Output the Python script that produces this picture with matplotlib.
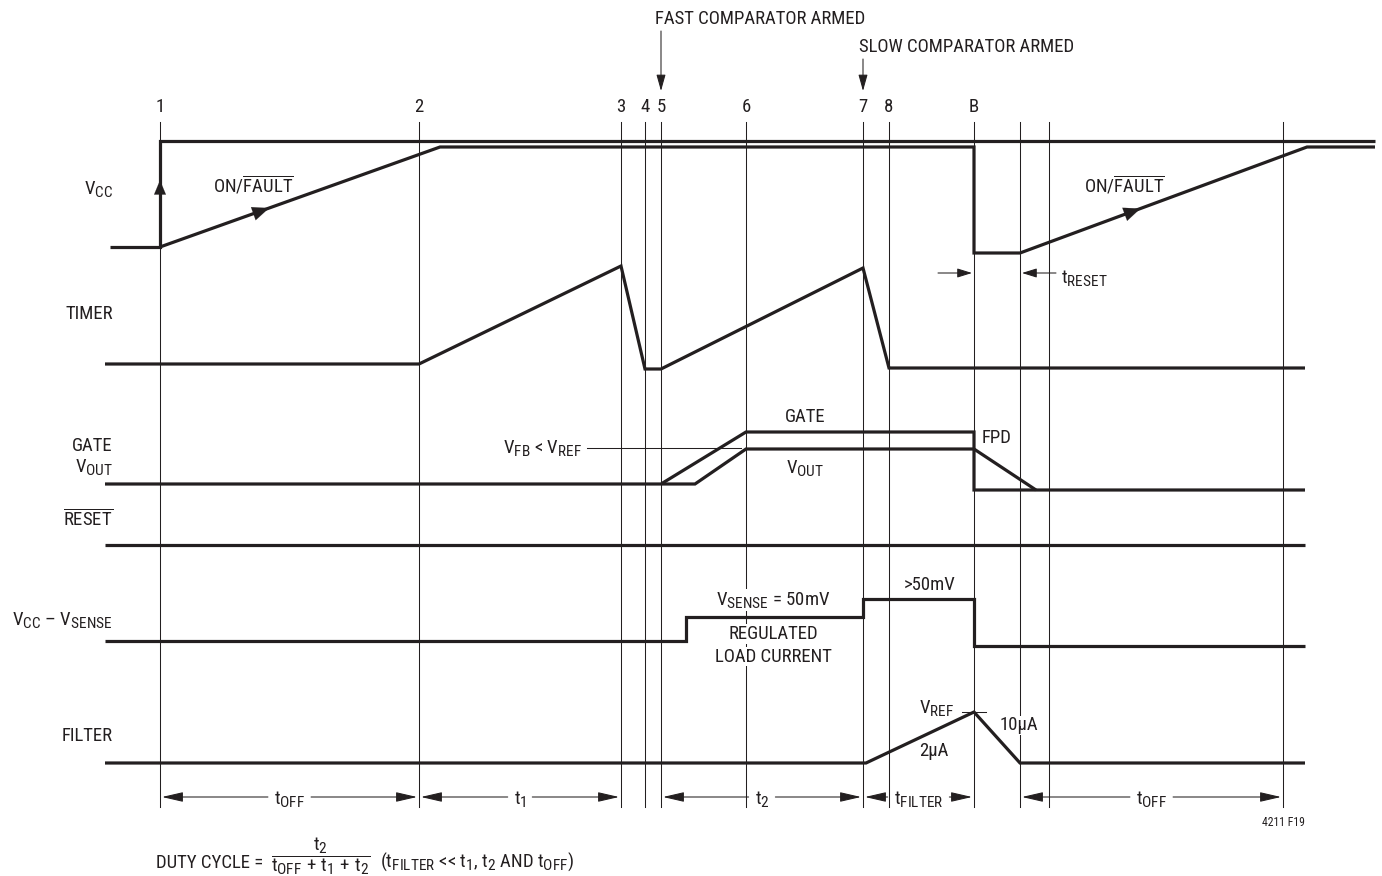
import matplotlib
matplotlib.use('Agg')
import matplotlib.pyplot as plt
import matplotlib._mathtext as _mt
from matplotlib.patches import FancyArrowPatch

# larger subscripts, closer to the reference typography
_mt.SHRINK_FACTOR = 0.82

FONT = ['Roboto Condensed', 'Archivo Narrow', 'Open Sans', 'DejaVu Sans']
plt.rcParams['font.family'] = FONT
plt.rcParams['mathtext.fontset'] = 'custom'
for k in ('rm', 'it', 'bf', 'sf'):
    plt.rcParams['mathtext.' + k] = 'Roboto Condensed'

INK = '#231f20'

# ---------------- data (time axis, signal levels) ----------------
event_labels = ['1', '2', '3', '4', '5', '6', '7', '8', 'B']
event_t = [160, 419, 621, 645, 661, 746, 863, 889, 974]
extra_t = [1020, 1049, 1283]

vcc_t = [110, 160, 160, 1375]
vcc_y = [247, 247, 141, 141]
onfault_t = [160, 440, 974, 974, 1020, 1307, 1375]
onfault_y = [247, 147, 147, 253, 253, 147, 147]
timer_t = [105, 419, 621, 645, 661, 863, 889, 1305]
timer_y = [364, 364, 266, 369, 369, 268, 368, 368]
gate_t = [105, 661, 746, 974, 974, 1305]
gate_y = [484, 484, 432, 432, 490, 490]
vout_t = [661, 695, 746, 974, 1036]
vout_y = [484, 484, 449, 449, 490]
reset_t = [105, 1305]
reset_y = [545, 545]
sense_t = [105, 686, 686, 863, 863, 974, 974, 1305]
sense_y = [641, 641, 617, 617, 599, 599, 646, 646]
filter_t = [105, 866, 974, 1020, 1305]
filter_y = [763, 763, 712, 763, 763]

intervals = [(160, 419, r'$\mathrm{t_{OFF}}$'),
             (419, 621, r'$\mathrm{t_1}$'),
             (661, 863, r'$\mathrm{t_2}$'),
             (863, 974, r'$\mathrm{t_{FILTER}}$'),
             (1020, 1283, r'$\mathrm{t_{OFF}}$')]

row_labels = [(r'$\mathrm{V_{CC}}$', 194),
              ('TIMER', 319),
              ('GATE', 451),
              (r'$\mathrm{V_{OUT}}$', 472),
              (r'$\overline{\mathrm{RESET}}$', 525),
              (r'$\mathrm{V_{CC}}$ – $\mathrm{V_{SENSE}}$', 625),
              ('FILTER', 741)]

# ---------------- figure ----------------
fig = plt.figure(figsize=(13.82, 8.76), dpi=100)
ax = fig.add_axes([0, 0, 1, 1])
ax.set_xlim(0, 1382)
ax.set_ylim(876, 0)
ax.axis('off')

THICK = 2.3
THIN = 0.75
FS = 13.5

# vertical event lines
for t in event_t + extra_t:
    ax.plot([t, t], [122, 807], color=INK, lw=THIN, zorder=2)

# event numbers
for lab, t in zip(event_labels, event_t):
    ax.text(t, 112.5, lab, ha='center', va='baseline', fontsize=FS, color=INK)

# waveforms
for xs, ys in [(vcc_t, vcc_y), (onfault_t, onfault_y), (timer_t, timer_y),
               (gate_t, gate_y), (vout_t, vout_y), (reset_t, reset_y),
               (sense_t, sense_y), (filter_t, filter_y)]:
    ax.plot(xs, ys, color=INK, lw=THICK, solid_joinstyle='miter',
            solid_capstyle='butt', zorder=4)


def arrow(p0, p1, hl=0.9, hw=0.3, lw=THIN, z=5):
    a = FancyArrowPatch(p0, p1, arrowstyle=f'-|>,head_length={hl},head_width={hw}',
                        mutation_scale=10, lw=lw, color=INK, shrinkA=0, shrinkB=0,
                        zorder=z)
    ax.add_patch(a)


def head_on_segment(x0, y0, x1, y1, frac, size=1.0):
    tx = x0 + (x1 - x0) * frac
    ty = y0 + (y1 - y0) * frac
    dx, dy = x1 - x0, y1 - y0
    n = (dx * dx + dy * dy) ** 0.5
    arrow((tx - dx / n * 12, ty - dy / n * 12), (tx, ty), hl=1.2 * size,
          hw=0.5 * size, lw=0.1, z=6)


# arrowheads on waveforms
head_on_segment(160, 247, 160, 141, 0.63, 0.85)
head_on_segment(160, 247, 440, 147, 0.39)
head_on_segment(1020, 253, 1307, 147, 0.42)

# row labels
for lab, yb in row_labels:
    ax.text(113, yb, lab, ha='right', va='baseline', fontsize=FS, color=INK)

# top annotations
ax.text(655, 24, 'FAST COMPARATOR ARMED', ha='left', va='baseline', fontsize=FS, color=INK)
ax.text(859, 52.5, 'SLOW COMPARATOR ARMED', ha='left', va='baseline', fontsize=FS, color=INK)
arrow((661, 31), (661, 91), hl=1.0, hw=0.28)
arrow((863, 59), (863, 91), hl=1.0, hw=0.28)

# ON/FAULT labels
ax.text(253, 193, r'ON/$\overline{\mathrm{FAULT}}$', ha='center', va='baseline', fontsize=FS, color=INK)
ax.text(1124, 193, r'ON/$\overline{\mathrm{FAULT}}$', ha='center', va='baseline', fontsize=FS, color=INK)

# tRESET
arrow((938, 273), (972, 273), hl=0.9, hw=0.28)
arrow((1056, 273), (1022, 273), hl=0.9, hw=0.28)
ax.text(1061, 283, r'$\mathrm{t_{RESET}}$', ha='left', va='baseline', fontsize=FS, color=INK)

# GATE / VOUT annotations
ax.text(805, 422.5, 'GATE', ha='center', va='baseline', fontsize=FS, color=INK)
ax.text(805, 473, r'$\mathrm{V_{OUT}}$', ha='center', va='baseline', fontsize=FS, color=INK)
ax.text(982, 443, 'FPD', ha='left', va='baseline', fontsize=FS, color=INK)
ax.plot([587, 741], [448, 448], color=INK, lw=THIN, zorder=3)
ax.text(582, 453, r'$\mathrm{V_{FB}}$ < $\mathrm{V_{REF}}$', ha='right', va='baseline',
        fontsize=FS, color=INK)

# sense annotations
bb = dict(boxstyle='square,pad=0.05', fc='white', ec='none')
ax.text(773, 605, r'$\mathrm{V_{SENSE}}$ = 50mV', ha='center', va='baseline', fontsize=FS,
        color=INK, bbox=bb, zorder=3)
ax.text(930, 590.5, '>50mV', ha='center', va='baseline', fontsize=FS, color=INK)
ax.text(773, 639, 'REGULATED', ha='center', va='baseline', fontsize=FS, color=INK,
        bbox=bb, zorder=3)
ax.text(773, 661.5, 'LOAD CURRENT', ha='center', va='baseline', fontsize=FS, color=INK,
        bbox=bb, zorder=3)

# filter annotations
ax.plot([962, 986], [712, 712], color=INK, lw=THIN, zorder=3)
ax.text(954, 713, r'$\mathrm{V_{REF}}$', ha='right', va='baseline', fontsize=FS, color=INK)
ax.text(934, 756.5, '2µA', ha='center', va='baseline', fontsize=FS, color=INK)
ax.text(1019, 730.5, '10µA', ha='center', va='baseline', fontsize=FS, color=INK,
        bbox=bb, zorder=3)

# dimension arrows
fig.canvas.draw()
renderer = fig.canvas.get_renderer()
inv = ax.transData.inverted()
DIM_Y = 797
for a, b, lab in intervals:
    c = (a + b) / 2
    txt = ax.text(c, DIM_Y + 7, lab, ha='center', va='baseline', fontsize=FS, color=INK,
                  zorder=3)
    ext = txt.get_window_extent(renderer)
    (x0, _), (x1, _) = inv.transform([(ext.x0, ext.y0), (ext.x1, ext.y1)])
    gap = 6
    arrow((x0 - gap, DIM_Y), (a + 2, DIM_Y), hl=1.3, hw=0.3)
    arrow((x1 + gap, DIM_Y), (b - 2, DIM_Y), hl=1.3, hw=0.3)

ax.text(1305, 825.5, '4211 F19', ha='right', va='baseline', fontsize=8.5, color=INK)

# duty cycle
ax.text(156, 868.5, 'DUTY CYCLE =', ha='left', va='baseline', fontsize=FS, color=INK)
ax.text(271, 856, r'$\dfrac{\mathrm{t_2}}{\mathrm{t_{OFF}\,+\,t_1\,+\,t_2}}$', ha='left',
        va='center', fontsize=FS, color=INK)
ax.text(380, 866.5, r'($\mathrm{t_{FILTER}}$ << $\mathrm{t_1}$, $\mathrm{t_2}$ AND $\mathrm{t_{OFF}}$)',
        ha='left', va='baseline', fontsize=FS, color=INK)

fig.savefig('out.png', dpi=100, facecolor='white')
